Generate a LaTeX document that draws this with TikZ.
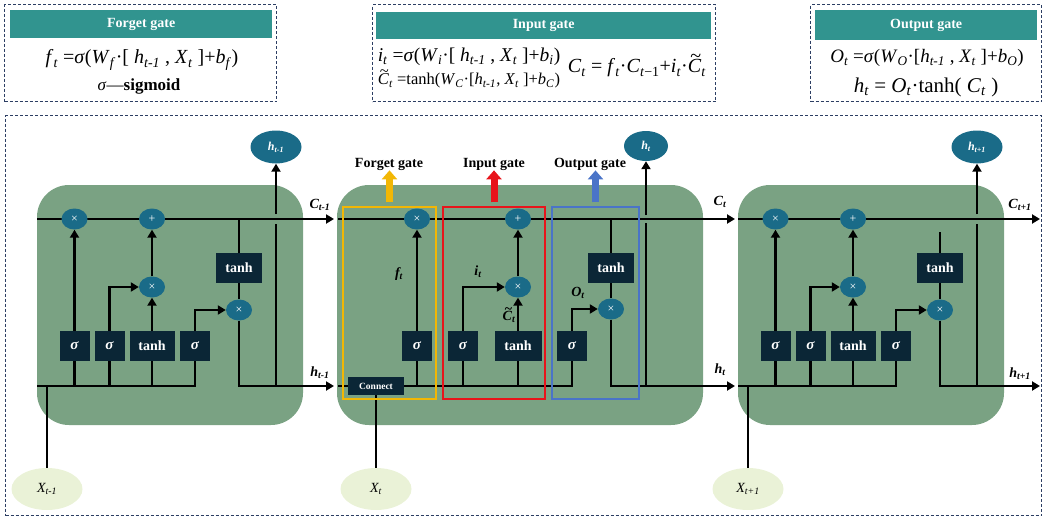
\documentclass[tikz,border=0pt]{standalone}
\usepackage{fontspec}
\setmainfont{Liberation Serif}
\usetikzlibrary{arrows.meta,shapes.geometric}
\pgfdeclarelayer{back}\pgfdeclarelayer{lines}
\pgfsetlayers{back,lines,main}
\definecolor{hdrteal}{HTML}{31948F}
\definecolor{dashnavy}{HTML}{2C3E63}
\definecolor{cellgreen}{HTML}{7AA283}
\definecolor{opblue}{HTML}{1A6B88}
\definecolor{boxnavy}{HTML}{0B2636}
\definecolor{xgreen}{HTML}{EAF2D7}
\definecolor{gyellow}{HTML}{F2B705}
\definecolor{gred}{HTML}{E8141B}
\definecolor{gblue}{HTML}{4A74C8}
\newcommand\vs[2]{\textit{#1}\textsubscript{\textit{#2}}}
\newcommand\fs[1]{\fontsize{#1}{#1}\selectfont}
\newcommand\tC{\rlap{\smash{\raisebox{0.52em}{\kern0.12em\textasciitilde}}}\textit{C}}
\tikzset{
  cell/.style={fill=cellgreen, rounded corners=32pt, inner sep=0},
  op/.style={ellipse, fill=opblue, minimum width=26pt, minimum height=21pt, inner sep=0, text=white, font=\fs{12}},
  gbox/.style={fill=boxnavy, text=white, minimum height=30pt, inner sep=0, font=\bfseries\fs{14}},
  sig/.style={gbox, minimum width=30pt, font=\bfseries\itshape\fs{15}},
  thb/.style={gbox, minimum width=45pt},
  conn/.style={fill=boxnavy, text=white, minimum width=56pt, minimum height=18pt, inner sep=0, font=\bfseries\fs{9.5}},
  hnode/.style={ellipse, fill=opblue, minimum width=51pt, minimum height=33pt, inner sep=0, text=white, font=\bfseries\itshape\fs{12}},
  xnode/.style={ellipse, fill=xgreen, minimum width=71pt, minimum height=42pt, inner sep=0, font=\itshape\fs{14}},
  wire/.style={line width=2.2pt, black},
  arr/.style={wire, -{Triangle[length=8pt,width=9pt]}},
  lab/.style={font=\bfseries\itshape\fs{14}, inner sep=0},
  gt/.style={font=\bfseries\fs{14}, inner sep=0},
  garr/.style={line width=7pt, -{Triangle[length=9pt,width=15pt]}, shorten <=4pt},
  gaterect/.style={line width=1.5pt, minimum height=192pt, inner sep=0},
  dashbox/.style={draw=dashnavy, dash pattern=on 3pt off 2pt, line width=1.2pt, inner sep=0},
  hdr/.style={fill=hdrteal, text=white, inner sep=0, font=\bfseries\fs{14}, anchor=north west},
}
\newcommand\outercell[6]{%
\begin{scope}[xshift=#2]
\begin{pgfonlayer}{back}
\node[cell, minimum width=266pt, minimum height=240pt] (#1cell) at (170,305) {};
\end{pgfonlayer}
\node[op] (#1mf) at (74.5,219) {×};
\node[op] (#1pl) at (152,219) {+};
\node[op] (#1mi) at (152,287) {×};
\node[op] (#1mo) at (239,310) {×};
\node[sig] (#1sf) at (74.5,346) {σ};
\node[sig] (#1si) at (109.5,346) {σ};
\node[thb] (#1th) at (152,346) {tanh};
\node[sig] (#1so) at (195,346) {σ};
\node[thb, minimum width=46pt] (#1tc) at (239,268) {tanh};
\node[hnode] (#1h) at (276,147) {#4};
\node[xnode] (#1x) at (47,489) {#5};
\coordinate (#1ci) at (37,219);
\coordinate (#1co) at (#6,219);
\coordinate (#1hi) at (37,386);
\coordinate (#1ho) at (#6,386);
\coordinate (#1tt) at (239,#3);
\coordinate (#1hb) at (276,386);
\coordinate (#1ga) at (276,224);
\coordinate (#1gb) at (276,214);
\coordinate (#1xt) at (47,386);
\begin{pgfonlayer}{lines}
\draw[arr] (#1ci) -- (#1co);
\draw[wire] (#1hi) -| (#1so.south);
\draw[wire] (#1sf.south) -- (#1sf.south |- #1hi);
\draw[wire] (#1si.south) -- (#1si.south |- #1hi);
\draw[wire] (#1th.south) -- (#1th.south |- #1hi);
\draw[arr] (#1sf) -- (#1mf);
\draw[arr] (#1si.north) |- (#1mi);
\draw[arr] (#1th) -- (#1mi);
\draw[arr] (#1mi) -- (#1pl);
\draw[arr] (#1so.north) |- (#1mo);
\draw[wire] (#1tt) -- (#1tc);
\draw[wire] (#1tc) -- (#1mo);
\draw[arr] (#1mo) -- (#1mo |- #1ho) -- (#1ho);
\draw[wire] (#1hb) -- (#1ga);
\draw[arr] (#1gb) -- (#1h);
\draw[wire] (#1xt) -- (#1x);
\end{pgfonlayer}
\end{scope}}
\begin{document}
\begin{tikzpicture}[x=1pt,y=-1pt]
\useasboundingbox (0,0) rectangle (1042,517);
% ---------- top formula boxes ----------
\node[dashbox, minimum width=272pt, minimum height=97pt, anchor=north west] (fbox) at (4,4) {};
\node[hdr, minimum width=262pt, minimum height=28pt] (fhdr) at (10,10) {Forget gate};
\node[font=\fs{20}] (ff1) at (142,60) {\vs{f}{t} =\textit{σ}(\vs{W}{f}·[ \vs{h}{t-1} , \vs{X}{t} ]+\vs{b}{f})};
\node[font=\fs{17}] (ff2) at (139,86) {\textit{σ}—\textbf{sigmoid}};

\node[dashbox, minimum width=343pt, minimum height=97pt, anchor=north west] (ibox) at (372,4) {};
\node[hdr, minimum width=335pt, minimum height=27pt] (ihdr) at (376,12) {Input gate};
\node[font=\fs{19.5}] (if1) at (469,57) {\vs{i}{t} =\textit{σ}(\vs{W}{i}·[ \vs{h}{t-1} , \vs{X}{t} ]+\vs{b}{i})};
\node[font=\fs{16.5}] (if2) at (469,81) {\tC\textsubscript{\textit{t}} =tanh(\vs{W}{C}·[\vs{h}{t-1}, \vs{X}{t} ]+\vs{b}{C})};
\node[font=\fs{20}] (if3) at (637,68) {\vs{C}{t} = \vs{f}{t}·\textit{C}\textsubscript{\textit{t}−1}+\vs{i}{t}·\tC\textsubscript{\textit{t}}};

\node[dashbox, minimum width=231pt, minimum height=97pt, anchor=north west] (obox) at (810,4) {};
\node[hdr, minimum width=222pt, minimum height=30pt] (ohdr) at (815,10) {Output gate};
\node[font=\fs{19}] (of1) at (927,58) {\vs{O}{t} =\textit{σ}(\vs{W}{O}·[\vs{h}{t-1} , \vs{X}{t} ]+\vs{b}{O})};
\node[font=\fs{21}] (of2) at (926,87) {\vs{h}{t} = \vs{O}{t}·tanh( \vs{C}{t} )};

% ---------- main frame ----------
\node[dashbox, minimum width=1036pt, minimum height=400pt, anchor=north west] (frame) at (5,115) {};

% ---------- outer cells ----------
\outercell{L}{0}{219}{\textit{h}\textsubscript{t-1}}{\textit{X}\textsubscript{t-1}}{334}
\outercell{R}{701}{232}{\textit{h}\textsubscript{t+1}}{\textit{X}\textsubscript{t+1}}{339}

% ---------- middle cell ----------
\begin{pgfonlayer}{back}
\node[cell, minimum width=366pt, minimum height=240pt] (Mcell) at (520,305) {};
\end{pgfonlayer}
\node[gaterect, draw=gyellow, minimum width=93pt] (Gf) at (389.5,303) {};
\node[gaterect, draw=gred, minimum width=102pt] (Gi) at (494,303) {};
\node[gaterect, draw=gblue, minimum width=87pt] (Go) at (595.5,303) {};
\node[op] (Mmf) at (417,219) {×};
\node[op] (Mpl) at (518,219) {+};
\node[op] (Mmi) at (518,287) {×};
\node[op] (Mmo) at (611,309) {×};
\node[sig] (Msf) at (417,346) {σ};
\node[sig] (Msi) at (463,346) {σ};
\node[thb, minimum width=47pt] (Mth) at (518,346) {tanh};
\node[sig] (Mso) at (572,346) {σ};
\node[thb, minimum width=46pt] (Mtc) at (611,268) {tanh};
\node[hnode, minimum width=44pt, minimum height=30pt] (Mh) at (646,146) {\textit{h}\textsubscript{t}};
\node[xnode] (Mx) at (376,489) {\textit{X}\textsubscript{t}};
\node[conn] (Mcn) at (376,386) {Connect};
\coordinate (Mci) at (338,219);
\coordinate (Mco) at (735,219);
\coordinate (Mhi) at (338,386);
\coordinate (Mho) at (735,386);
\coordinate (Mtt) at (611,219);
\coordinate (Mhb) at (646,386);
\coordinate (Mga) at (646,223);
\coordinate (Mgb) at (646,215);
\begin{pgfonlayer}{lines}
\draw[arr] (Mci) -- (Mco);
\draw[wire] (Mhi) -- (Mcn);
\draw[wire] (Mcn) -| (Mso.south);
\draw[wire] (Msf.south) -- (Msf.south |- Mhi);
\draw[wire] (Msi.south) -- (Msi.south |- Mhi);
\draw[wire] (Mth.south) -- (Mth.south |- Mhi);
\draw[arr] (Msf) -- (Mmf);
\draw[arr] (Msi.north) |- (Mmi);
\draw[arr] (Mth) -- (Mmi);
\draw[arr] (Mmi) -- (Mpl);
\draw[arr] (Mso.north) |- (Mmo);
\draw[wire] (Mtt) -- (Mtc);
\draw[wire] (Mtc) -- (Mmo);
\draw[arr] (Mmo) -- (Mmo |- Mho) -- (Mho);
\draw[wire] (Mhb) -- (Mga);
\draw[arr] (Mgb) -- (Mh);
\draw[wire] (Mcn) -- (Mx);
\end{pgfonlayer}
% inner labels
\node[lab] (lft) at (399,274) {\textit{f}\textsubscript{t}};
\node[lab] (lit) at (478,272) {\textit{i}\textsubscript{t}};
\node[lab] (lct) at (509,317) {\tC\textsubscript{t}};
\node[lab] (lot) at (578,293) {\textit{O}\textsubscript{t}};
% gate titles and arrows
\node[gt] (tf) at (389,164) {Forget gate};
\node[gt] (ti) at (494,164) {Input gate};
\node[gt] (to) at (590,164) {Output gate};
\draw[garr, gyellow] (Gf.north) -- (Gf.north |- tf.south);
\draw[garr, gred] (Gi.north) -- (Gi.north |- ti.south);
\draw[garr, gblue] (Go.north) -- (Go.north |- to.south);
% line labels
\node[lab] (lc1) at (320,205) {\textit{C}\textsubscript{t-1}};
\node[lab] (lh1) at (320,373) {\textit{h}\textsubscript{t-1}};
\node[lab] (lc2) at (720,202) {\textit{C}\textsubscript{t}};
\node[lab] (lh2) at (720,370) {\textit{h}\textsubscript{t}};
\node[lab] (lc3) at (1020,205) {\textit{C}\textsubscript{t+1}};
\node[lab] (lh3) at (1020,374) {\textit{h}\textsubscript{t+1}};
\end{tikzpicture}
\end{document}
